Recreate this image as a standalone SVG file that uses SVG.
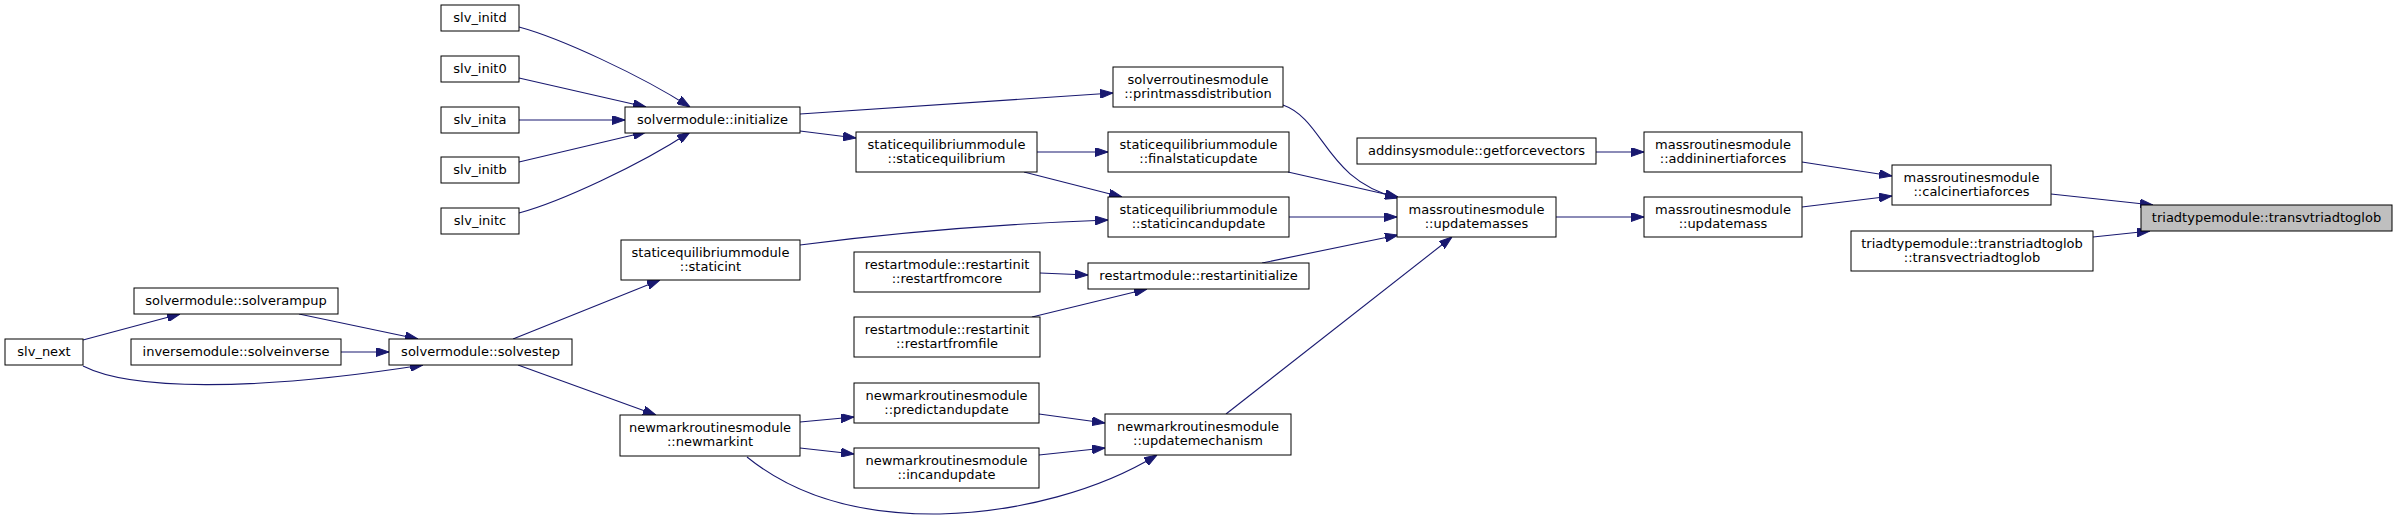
<svg xmlns="http://www.w3.org/2000/svg" width="2397" height="520" viewBox="0 0 2397 520">
<style>
.n rect{fill:#ffffff;stroke:#000000;stroke-width:1}
.n.root rect{fill:#bfbfbf}
.n text{font-family:"DejaVu Sans",sans-serif;font-size:13px;fill:#000000;text-anchor:middle}
.e path{fill:none;stroke:#191970;stroke-width:1.1;marker-end:url(#ah)}
</style>
<defs>
<marker id="ah" viewBox="0 0 13 9" refX="13" refY="4.5" markerWidth="13" markerHeight="9" markerUnits="userSpaceOnUse" orient="auto">
<path d="M0,0 L13,4.5 L0,9 z" fill="#191970" stroke="#191970" stroke-width="1"/>
</marker>
</defs>
<rect x="0" y="0" width="2397" height="520" fill="#ffffff"/>
<g id="edges" class="e">
<path d="M519,27 C560,38 640,75 690,107"/>
<path d="M519,78 L646,107"/>
<path d="M519,120 L625,120"/>
<path d="M519,162 L646,132"/>
<path d="M519,213 C560,202 640,165 690,132"/>
<path d="M800,114 L1113,93"/>
<path d="M800,131 L856,138"/>
<path d="M83,340 L180,314"/>
<path d="M83,366 C130,390 250,392 423,365"/>
<path d="M299,314 L418,339"/>
<path d="M341,352 L389,352"/>
<path d="M513,339 L660,280"/>
<path d="M518,365 L656,415"/>
<path d="M800,245 C900,232 1000,224 1108,220"/>
<path d="M1037,152 L1108,152"/>
<path d="M1024,172 L1122,197"/>
<path d="M1283,105 C1325,120 1325,180 1398,198"/>
<path d="M1288,172 L1398,197"/>
<path d="M1289,217 L1397,217"/>
<path d="M1262,263 L1398,235"/>
<path d="M1226,414 L1452,237"/>
<path d="M1596,152 L1644,152"/>
<path d="M1556,217 L1644,217"/>
<path d="M1802,162 L1892,176"/>
<path d="M1802,207 L1892,196"/>
<path d="M2051,194 L2153,205"/>
<path d="M2093,237 L2150,231"/>
<path d="M1040,273 L1088,275"/>
<path d="M1032,317 L1147,289"/>
<path d="M800,422 L854,417"/>
<path d="M800,448 L854,454"/>
<path d="M1039,414 L1105,423"/>
<path d="M1039,455 L1105,448"/>
<path d="M747,457 C800,500 870,515 940,514 C1020,512 1100,490 1157,455"/>
</g>
<g id="slv_initd" class="n"><rect x="441" y="5" width="78" height="26"/><text x="480" y="22">slv_initd</text></g>
<g id="slv_init0" class="n"><rect x="441" y="56" width="78" height="26"/><text x="480" y="73">slv_init0</text></g>
<g id="slv_inita" class="n"><rect x="441" y="107" width="78" height="26"/><text x="480" y="124">slv_inita</text></g>
<g id="slv_initb" class="n"><rect x="441" y="157" width="78" height="26"/><text x="480" y="174">slv_initb</text></g>
<g id="slv_initc" class="n"><rect x="441" y="208" width="78" height="26"/><text x="480" y="225">slv_initc</text></g>
<g id="initialize" class="n"><rect x="625" y="107" width="175" height="26"/><text x="712.5" y="124">solvermodule::initialize</text></g>
<g id="slv_next" class="n"><rect x="5" y="339" width="78" height="26"/><text x="44" y="356">slv_next</text></g>
<g id="solverampup" class="n"><rect x="134" y="288" width="204" height="26"/><text x="236" y="305">solvermodule::solverampup</text></g>
<g id="solveinverse" class="n"><rect x="131" y="339" width="210" height="26"/><text x="236" y="356">inversemodule::solveinverse</text></g>
<g id="solvestep" class="n"><rect x="389" y="339" width="183" height="26"/><text x="480.5" y="356">solvermodule::solvestep</text></g>
<g id="getforcevectors" class="n"><rect x="1357" y="138" width="239" height="26"/><text x="1476.5" y="155">addinsysmodule::getforcevectors</text></g>
<g id="restartinitialize" class="n"><rect x="1088" y="263" width="221" height="26"/><text x="1198.5" y="280">restartmodule::restartinitialize</text></g>
<g id="transvtriadtoglob" class="n root"><rect x="2141" y="205" width="251" height="26"/><text x="2266.5" y="222">triadtypemodule::transvtriadtoglob</text></g>
<g id="staticint" class="n"><rect x="621" y="240" width="179" height="40"/><text x="710.5" y="256.5">staticequilibriummodule</text><text x="710.5" y="270.5">::staticint</text></g>
<g id="newmarkint" class="n"><rect x="620" y="415" width="180" height="41"/><text x="710" y="431.5">newmarkroutinesmodule</text><text x="710" y="445.5">::newmarkint</text></g>
<g id="printmassdistribution" class="n"><rect x="1113" y="67" width="170" height="40"/><text x="1198" y="83.5">solverroutinesmodule</text><text x="1198" y="97.5">::printmassdistribution</text></g>
<g id="staticequilibrium" class="n"><rect x="856" y="132" width="181" height="40"/><text x="946.5" y="148.5">staticequilibriummodule</text><text x="946.5" y="162.5">::staticequilibrium</text></g>
<g id="finalstaticupdate" class="n"><rect x="1108" y="132" width="181" height="40"/><text x="1198.5" y="148.5">staticequilibriummodule</text><text x="1198.5" y="162.5">::finalstaticupdate</text></g>
<g id="staticincandupdate" class="n"><rect x="1108" y="197" width="181" height="40"/><text x="1198.5" y="213.5">staticequilibriummodule</text><text x="1198.5" y="227.5">::staticincandupdate</text></g>
<g id="updatemasses" class="n"><rect x="1397" y="197" width="159" height="40"/><text x="1476.5" y="213.5">massroutinesmodule</text><text x="1476.5" y="227.5">::updatemasses</text></g>
<g id="restartfromcore" class="n"><rect x="854" y="252" width="186" height="40"/><text x="947" y="268.5">restartmodule::restartinit</text><text x="947" y="282.5">::restartfromcore</text></g>
<g id="restartfromfile" class="n"><rect x="854" y="317" width="186" height="40"/><text x="947" y="333.5">restartmodule::restartinit</text><text x="947" y="347.5">::restartfromfile</text></g>
<g id="predictandupdate" class="n"><rect x="854" y="383" width="185" height="40"/><text x="946.5" y="399.5">newmarkroutinesmodule</text><text x="946.5" y="413.5">::predictandupdate</text></g>
<g id="incandupdate" class="n"><rect x="854" y="448" width="185" height="40"/><text x="946.5" y="464.5">newmarkroutinesmodule</text><text x="946.5" y="478.5">::incandupdate</text></g>
<g id="updatemechanism" class="n"><rect x="1105" y="414" width="186" height="41"/><text x="1198" y="430.5">newmarkroutinesmodule</text><text x="1198" y="444.5">::updatemechanism</text></g>
<g id="addininertiaforces" class="n"><rect x="1644" y="132" width="158" height="40"/><text x="1723" y="148.5">massroutinesmodule</text><text x="1723" y="162.5">::addininertiaforces</text></g>
<g id="updatemass" class="n"><rect x="1644" y="197" width="158" height="40"/><text x="1723" y="213.5">massroutinesmodule</text><text x="1723" y="227.5">::updatemass</text></g>
<g id="calcinertiaforces" class="n"><rect x="1892" y="165" width="159" height="40"/><text x="1971.5" y="181.5">massroutinesmodule</text><text x="1971.5" y="195.5">::calcinertiaforces</text></g>
<g id="transvectriadtoglob" class="n"><rect x="1851" y="231" width="242" height="40"/><text x="1972" y="247.5">triadtypemodule::transtriadtoglob</text><text x="1972" y="261.5">::transvectriadtoglob</text></g>
</svg>
